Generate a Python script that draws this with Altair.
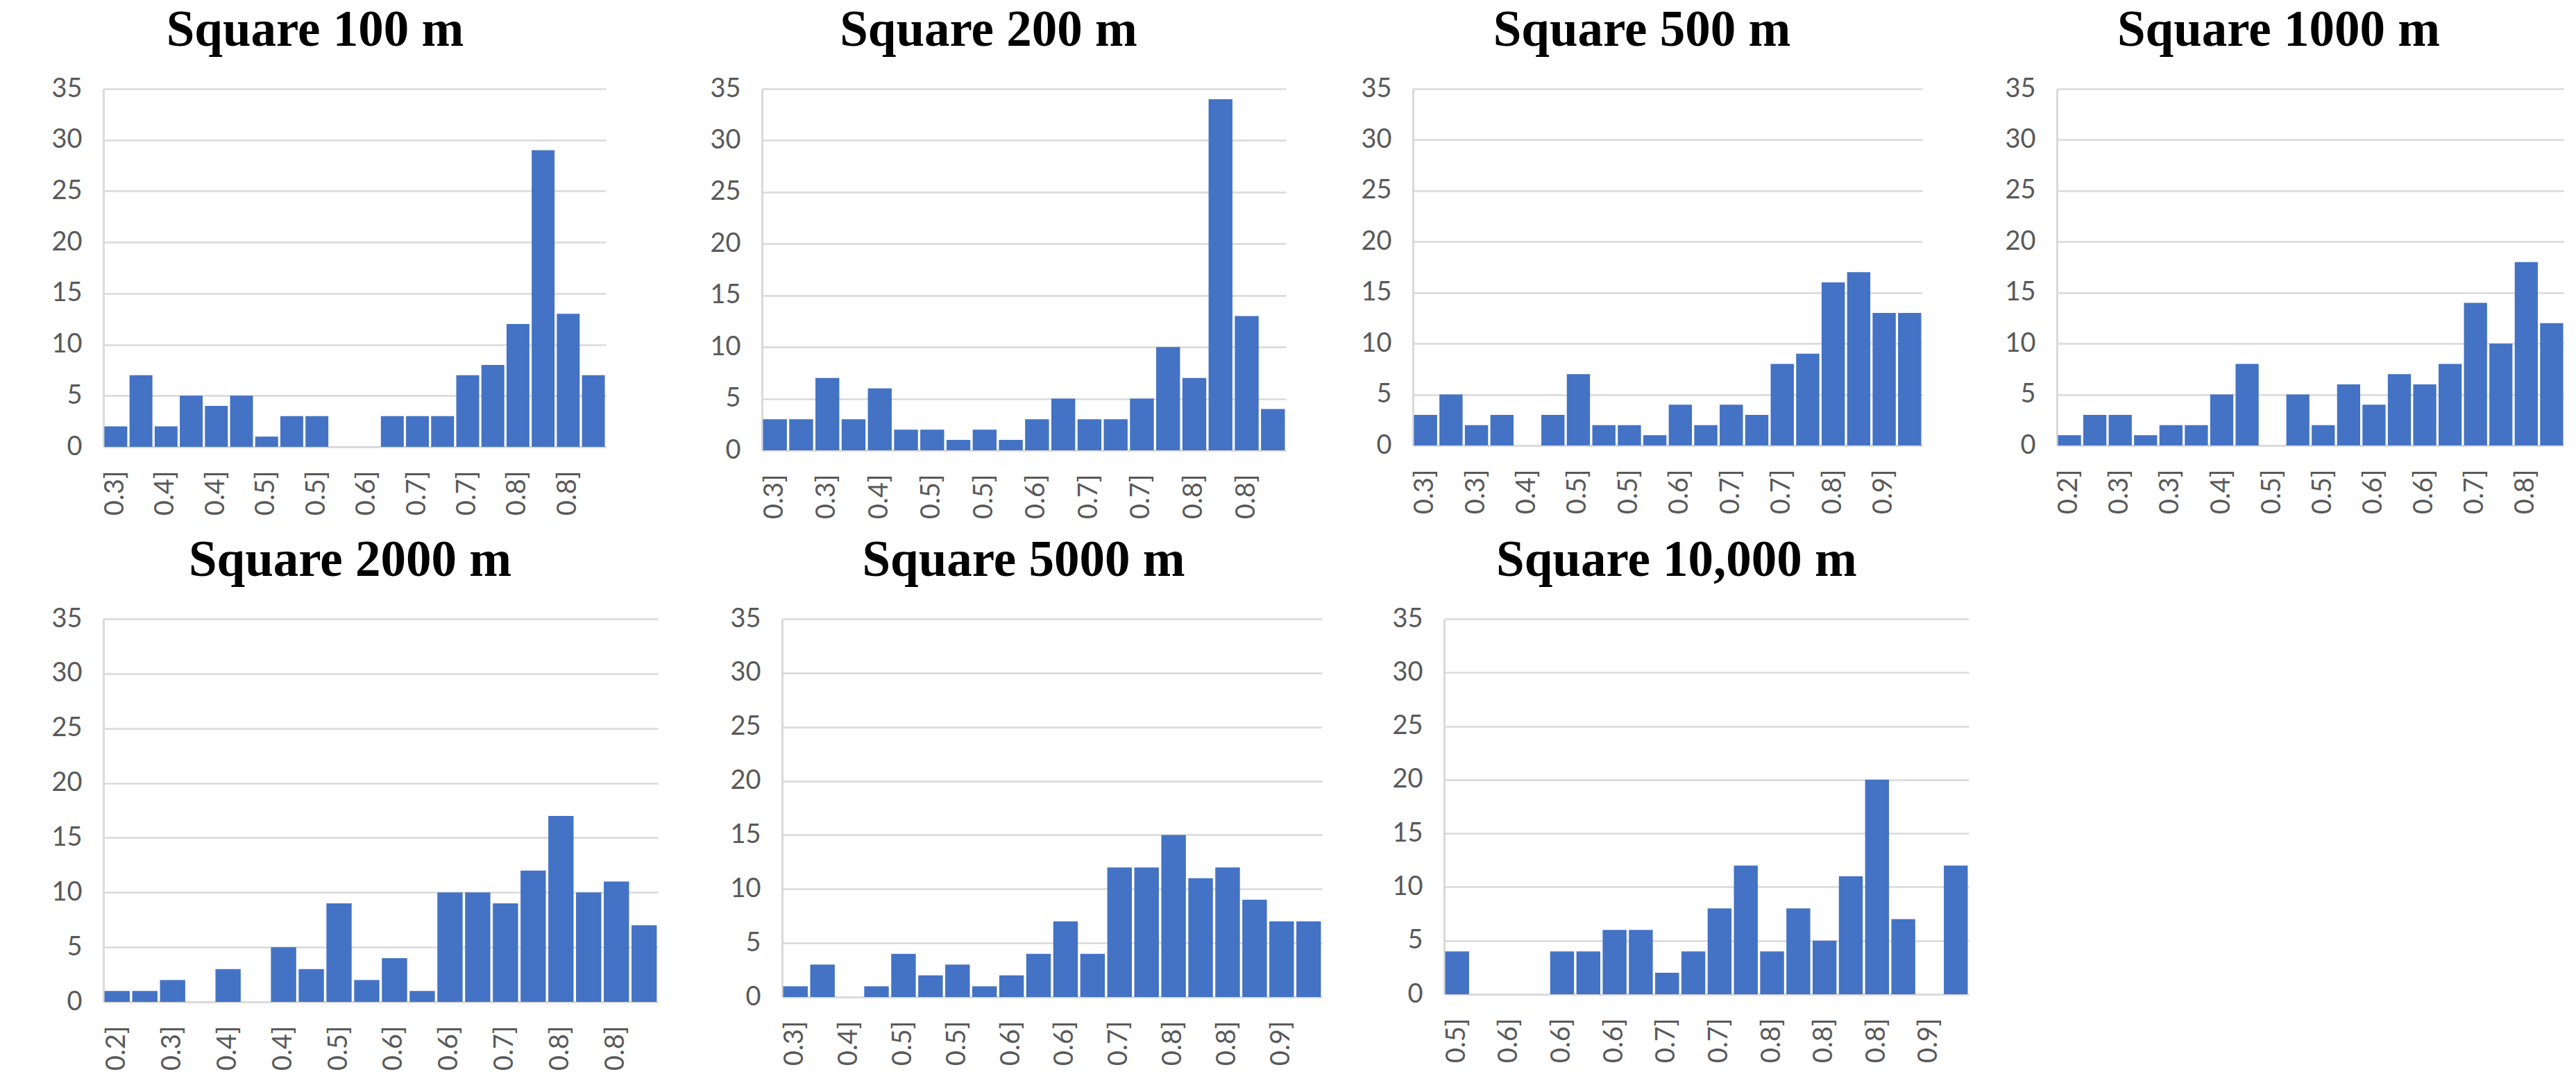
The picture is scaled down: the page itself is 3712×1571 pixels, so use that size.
import json
import altair as alt
import pandas as pd

# ---- data ----
titles = ["Square 100 m", "Square 200 m", "Square 500 m", "Square 1000 m",
          "Square 2000 m", "Square 5000 m", "Square 10,000 m"]

counts_100 = [2, 7, 2, 5, 4, 5, 1, 3, 3, 0, 0, 3, 3, 3, 7, 8, 12, 29, 13, 7]
counts_200 = [3, 3, 7, 3, 6, 2, 2, 1, 2, 1, 3, 5, 3, 3, 5, 10, 7, 34, 13, 4]
counts_500 = [3, 5, 2, 3, 0, 3, 7, 2, 2, 1, 4, 2, 4, 3, 8, 9, 16, 17, 13, 13]
counts_1000 = [1, 3, 3, 1, 2, 2, 5, 8, 0, 5, 2, 6, 4, 7, 6, 8, 14, 10, 18, 12]
counts_2000 = [1, 1, 2, 0, 3, 0, 5, 3, 9, 2, 4, 1, 10, 10, 9, 12, 17, 10, 11, 7]
counts_5000 = [1, 3, 0, 1, 4, 2, 3, 1, 2, 4, 7, 4, 12, 12, 15, 11, 12, 9, 7, 7]
counts_10000 = [4, 0, 0, 0, 4, 4, 6, 6, 2, 4, 8, 12, 4, 8, 5, 11, 20, 7, 0, 12]

labels_100 = ["0.3]", "0.4]", "0.4]", "0.5]", "0.5]", "0.6]", "0.7]", "0.7]", "0.8]", "0.8]"]
labels_200 = ["0.3]", "0.3]", "0.4]", "0.5]", "0.5]", "0.6]", "0.7]", "0.7]", "0.8]", "0.8]"]
labels_500 = ["0.3]", "0.3]", "0.4]", "0.5]", "0.5]", "0.6]", "0.7]", "0.7]", "0.8]", "0.9]"]
labels_1000 = ["0.2]", "0.3]", "0.3]", "0.4]", "0.5]", "0.5]", "0.6]", "0.6]", "0.7]", "0.8]"]
labels_2000 = ["0.2]", "0.3]", "0.4]", "0.4]", "0.5]", "0.6]", "0.6]", "0.7]", "0.8]", "0.8]"]
labels_5000 = ["0.3]", "0.4]", "0.5]", "0.5]", "0.6]", "0.6]", "0.7]", "0.8]", "0.8]", "0.9]"]
labels_10000 = ["0.5]", "0.6]", "0.6]", "0.6]", "0.7]", "0.7]", "0.8]", "0.8]", "0.8]", "0.9]"]

y_ticks = [0, 5, 10, 15, 20, 25, 30, 35]

panels = [
    (titles[0], counts_100, labels_100),
    (titles[1], counts_200, labels_200),
    (titles[2], counts_500, labels_500),
    (titles[3], counts_1000, labels_1000),
    (titles[4], counts_2000, labels_2000),
    (titles[5], counts_5000, labels_5000),
    (titles[6], counts_10000, labels_10000),
]

# layout: plot width, plot height, left gap (y-axis extent), title dx
layout = [
    (724, 516, 141, -57),
    (755, 521, 225, -51),
    (734, 514, 183, -37),
    (731, 514, 194, -46),
    (799, 552, 91, -44),
    (778, 545, 179, -41),
    (756, 541, 176, -43),
]

GRID = "#d9d9d9"
LABEL = "#595959"
BAR = "#4472C4"


def panel(title, counts, labels, w, h, yext, tdx):
    df = pd.DataFrame({"bin": list(range(len(counts))), "count": counts})
    expr = json.dumps(labels) + "[floor(datum.value / 2)]"
    return (
        alt.Chart(df)
        .mark_bar(color=BAR)
        .encode(
            x=alt.X(
                "bin:O",
                scale=alt.Scale(paddingInner=0.09, paddingOuter=0.04),
                axis=alt.Axis(
                    title=None,
                    values=list(range(0, len(counts), 2)),
                    labelExpr=expr,
                    labelAngle=270,
                    ticks=False,
                    tickSize=0,
                    labelPadding=34,
                    grid=False,
                    domainColor=GRID,
                    domainWidth=2.5,
                    minExtent=100,
                    maxExtent=100,
                ),
            ),
            y=alt.Y(
                "count:Q",
                scale=alt.Scale(domain=[0, 35], nice=False),
                axis=alt.Axis(
                    title=None,
                    values=y_ticks,
                    ticks=False,
                    tickSize=0,
                    labelPadding=31,
                    grid=True,
                    gridColor=GRID,
                    gridWidth=2.5,
                    domainColor=GRID,
                    domainWidth=3,
                    minExtent=yext,
                    maxExtent=yext,
                ),
            ),
        )
        .properties(
            width=w,
            height=h,
            title=alt.TitleParams(
                title,
                font="Liberation Serif",
                fontSize=73,
                fontWeight="bold",
                color="#000000",
                anchor="middle",
                frame="group",
                offset=28,
                dx=tdx,
            ),
        )
    )


charts = [panel(t, c, l, *lay) for (t, c, l), lay in zip(panels, layout)]

row1 = alt.hconcat(*charts[:4], spacing=0)
row2 = alt.hconcat(*charts[4:], spacing=0)

chart = (
    alt.vconcat(row1, row2, spacing=23)
    .properties(padding={"left": 0, "top": 0, "right": 0, "bottom": 0})
    .configure(background="white")
    .configure_view(stroke=None)
    .configure_axis(
        labelFont="Lato",
        labelFontSize=38,
        labelColor=LABEL,
    )
)

chart.save("out.html", embed_options={"renderer": "svg", "actions": False})
